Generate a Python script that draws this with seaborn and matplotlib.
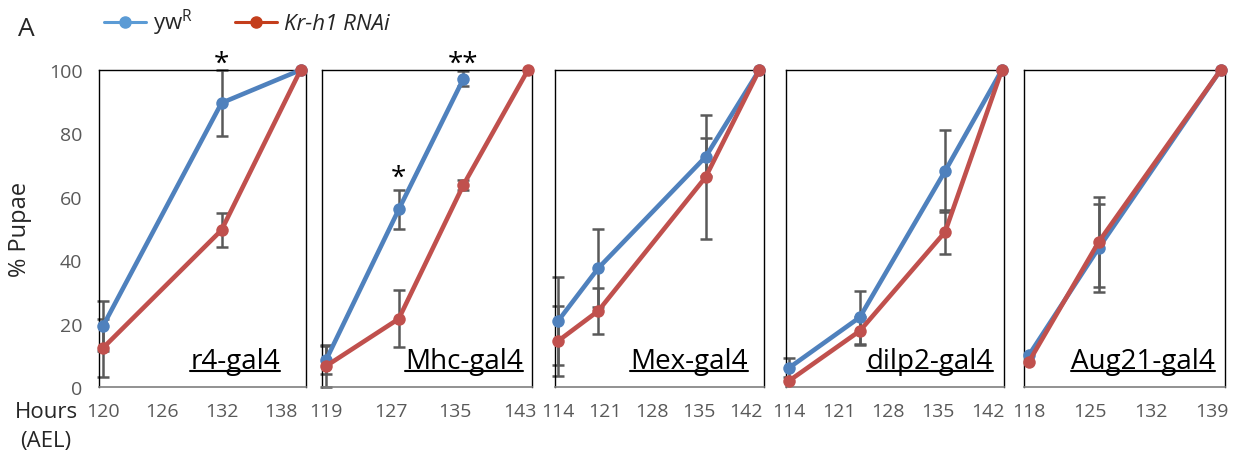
import numpy as np
import pandas as pd
import matplotlib
matplotlib.use('Agg')
import matplotlib.pyplot as plt
import seaborn as sns
from matplotlib.lines import Line2D

# ---- data ----
panel_names = ["r4-gal4", "Mhc-gal4", "Mex-gal4", "dilp2-gal4", "Aug21-gal4"]

r4_hours = [120, 132, 140]
r4_yw = [19.2, 89.6, 100]
r4_yw_err = [8.0, 10.3, 0]
r4_kr = [12.3, 49.5, 100]
r4_kr_err = [9.3, 5.3, 0]

mhc_hours = [119, 128, 136, 144]
mhc_yw = [8.5, 56.0, 97.2, np.nan]
mhc_yw_err = [4.5, 6.0, 2.4, 0]
mhc_kr = [6.6, 21.5, 63.7, 100]
mhc_kr_err = [6.5, 9.0, 1.5, 0]

mex_hours = [114, 120, 136, 144]
mex_yw = [20.8, 37.5, 72.6, 100]
mex_yw_err = [13.9, 12.3, 6.0, 0]
mex_kr = [14.5, 24.0, 66.2, 100]
mex_kr_err = [11.0, 7.3, 19.5, 0]

dilp_hours = [114, 124, 136, 144]
dilp_yw = [6.0, 22.0, 68.1, 100]
dilp_yw_err = [3.0, 8.3, 13.0, 0]
dilp_kr = [1.9, 17.7, 48.9, 100]
dilp_kr_err = [0, 4.5, 7.0, 0]

aug_hours = [118, 126, 140]
aug_yw = [10.0, 43.8, 100]
aug_yw_err = [0, 13.8, 0]
aug_kr = [7.9, 45.7, 100]
aug_kr_err = [0, 14.2, 0]

tick_sets = [
    [120, 126, 132, 138],
    [119, 127, 135, 143],
    [114, 121, 128, 135, 142],
    [114, 121, 128, 135, 142],
    [118, 125, 132, 139],
]

# significance marks: (panel index, hour, y value, text)
stars = [(0, 132, 102, "*"), (1, 128, 66, "*"), (1, 136, 102, "**")]

# ---- layout / styling ----
W, H = 1237, 464
BLUE, RED = "#4F81BD", "#C0504D"
LEG_BLUE, LEG_RED = "#5B9BD5", "#C43E1C"
GREY = "#595959"

# pixel boxes (left, width) and x limits for each panel
boxes = [(99, 207), (322, 210), (555, 209), (786, 218), (1024, 201)]
xlims = [(119.6, 140.55), (118.5, 144.5), (113.55, 144.7), (113.6, 144.3), (117.45, 140.5)]
label_inset = [26, 9, 16, 11, 10]
top_px, bot_px = 71, 388

sns.set_style("white")
plt.rcParams['font.family'] = ['Open Sans', 'DejaVu Sans']
plt.rcParams['mathtext.default'] = 'regular'

fig = plt.figure(figsize=(W / 100, H / 100), dpi=100)

all_data = [
    (r4_hours, r4_yw, r4_yw_err, r4_kr, r4_kr_err),
    (mhc_hours, mhc_yw, mhc_yw_err, mhc_kr, mhc_kr_err),
    (mex_hours, mex_yw, mex_yw_err, mex_kr, mex_kr_err),
    (dilp_hours, dilp_yw, dilp_yw_err, dilp_kr, dilp_kr_err),
    (aug_hours, aug_yw, aug_yw_err, aug_kr, aug_kr_err),
]

axes = []
labels = []
for i, (hours, yw, yw_err, kr, kr_err) in enumerate(all_data):
    left, width = boxes[i]
    ax = fig.add_axes([left / W, 1 - bot_px / H, width / W, (bot_px - top_px) / H])
    axes.append(ax)

    # error bars underneath the lines
    for vals, errs in ((yw, yw_err), (kr, kr_err)):
        keep = [(h, v, e) for h, v, e in zip(hours, vals, errs) if e > 0 and not np.isnan(v)]
        if keep:
            x, y, e = zip(*keep)
            ax.errorbar(x, y, yerr=e, fmt='none', ecolor=GREY, elinewidth=1.8,
                        capsize=4, capthick=1.8, zorder=1, clip_on=False)

    n = len(hours)
    df = pd.DataFrame({
        'hours': list(hours) * 2,
        'pupae': list(yw) + list(kr),
        'line': ['yw'] * n + ['kr'] * n,
    })
    sns.lineplot(data=df, x='hours', y='pupae', hue='line',
                 palette={'yw': BLUE, 'kr': RED}, hue_order=['yw', 'kr'],
                 marker='o', markersize=9, markeredgewidth=0, linewidth=3.3,
                 errorbar=None, legend=False, ax=ax, zorder=3, clip_on=False)

    ax.set_xlim(*xlims[i])
    ax.set_ylim(0, 100)
    ax.set_xticks(tick_sets[i])
    ax.set_xticklabels([str(t) for t in tick_sets[i]])
    ax.set_yticks([0, 20, 40, 60, 80, 100])
    if i > 0:
        ax.set_yticklabels([])
    ax.tick_params(axis='both', length=0, labelsize=14, labelcolor=GREY)
    ax.tick_params(axis='x', pad=11)
    ax.tick_params(axis='y', pad=12)
    ax.set_xlabel('')
    ax.set_ylabel('')
    for side in ['top', 'left', 'right']:
        ax.spines[side].set_color('black')
        ax.spines[side].set_linewidth(1.0)
    ax.spines['bottom'].set_color('#7F7F7F')
    ax.spines['bottom'].set_linewidth(1.2)

    t = ax.text(1 - label_inset[i] / width, 19 / (bot_px - top_px), panel_names[i],
                transform=ax.transAxes, ha='right', va='baseline', fontsize=20,
                color='black', zorder=5)
    labels.append((ax, t))

for pi, hr, yv, s in stars:
    axes[pi].text(hr, yv, s, ha='center', va='center', fontsize=20,
                  color='black', clip_on=False)

axes[0].set_ylabel('% Pupae', fontsize=17, labelpad=12)

# legend on top
handles = [
    Line2D([], [], color=LEG_BLUE, marker='o', markersize=8, linewidth=2.2),
    Line2D([], [], color=LEG_RED, marker='o', markersize=8, linewidth=2.2),
]
leg = fig.legend(handles, ['yw$^R$', 'Kr-h1 RNAi'], loc='center left',
                 bbox_to_anchor=(95 / W, 1 - 23 / H), ncol=2, frameon=False,
                 fontsize=16, handlelength=1.9, handletextpad=0.3,
                 columnspacing=1.9, borderaxespad=0)
leg.get_texts()[1].set_style('italic')

fig.text(18 / W, 1 - 30 / H, 'A', fontsize=19, ha='left', va='center')
fig.text(15 / W, 1 - 412 / H, 'Hours', fontsize=16, ha='left', va='center')
fig.text(20 / W, 1 - 442 / H, '(AEL)', fontsize=16, ha='left', va='center')

# underline the panel labels
fig.canvas.draw()
renderer = fig.canvas.get_renderer()
inv = fig.transFigure.inverted()
for ax, t in labels:
    bb = t.get_window_extent(renderer)
    base = ax.transAxes.transform(t.get_position())[1]
    x0, y0 = inv.transform((bb.x0, base - 3))
    x1, _ = inv.transform((bb.x1, base - 3))
    fig.add_artist(Line2D([x0, x1], [y0, y0], color='black', linewidth=1.5,
                          transform=fig.transFigure))

fig.savefig('out.png', dpi=100)
